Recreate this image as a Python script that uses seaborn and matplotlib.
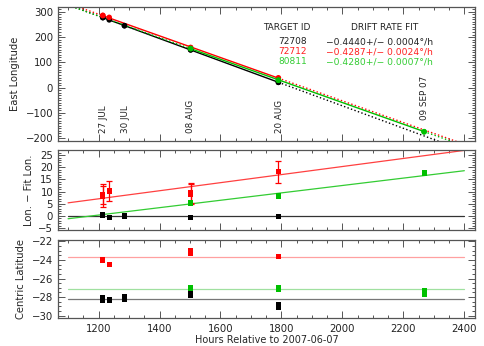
import numpy as np
import pandas as pd
import matplotlib
matplotlib.use("Agg")
import matplotlib.pyplot as plt
import seaborn as sns
from matplotlib.ticker import MultipleLocator

# ---------------- data ----------------
target_ids = ["72708", "72712", "80811"]
drift_rates = [-0.4440, -0.4287, -0.4280]
drift_errs = [0.0004, 0.0024, 0.0007]
fit_lon_at_1500 = [150.0, 162.0, 155.0]
resid_fit_at_1500 = [0.0, 12.0, 4.9]
resid_fit_slope = [0.0, 0.0166, 0.0152]
mean_lat = [-28.2, -23.7, -27.15]

hours_72708 = [1214, 1214, 1235, 1285, 1285, 1502, 1502, 1790, 1790]
lon_72708 = [277, 277, 268, 245, 245, 150, 149, 21, 21]
resid_72708 = [0.5, 0.3, -0.8, 0.2, -0.3, -0.5, -0.7, -0.1, -0.4]
lat_72708 = [-28.1, -28.3, -28.3, -27.9, -28.25, -27.4, -27.8, -28.8, -29.15]

hours_72712 = [1214, 1214, 1235, 1502, 1502, 1790]
lon_72712 = [286, 285, 278, 159, 158, 39]
resid_72712 = [8.9, 7.9, 10.2, 9.4, 9.0, 18.1]
resid_err_72712 = [4.2, 4.2, 4.1, 4.0, 4.0, 4.4]
lat_72712 = [-24.0, -23.95, -24.47, -23.0, -23.3, -23.6]

hours_80811 = [1502, 1502, 1790, 1790, 2268, 2268]
lon_80811 = [154, 155, 29, 30, -174, -175]
resid_80811 = [5.4, 5.2, 8.4, 8.2, 17.8, 17.5]
lat_80811 = [-26.95, -27.1, -26.95, -27.2, -27.3, -27.7]

date_hours = [1216, 1287, 1502, 1792, 2268]
date_labels = ["27 JUL", "30 JUL", "08 AUG", "20 AUG", "09 SEP 07"]
date_label_y = [-180, -180, -180, -180, -128]

# ---------------- style ----------------
sns.set_style("ticks")
plt.rcParams["font.family"] = ["DejaVu Sans"]
plt.rcParams["axes.edgecolor"] = "#555555"
plt.rcParams["xtick.color"] = "#555555"
plt.rcParams["ytick.color"] = "#555555"
plt.rcParams["xtick.labelcolor"] = "#222222"
plt.rcParams["ytick.labelcolor"] = "#222222"

colors = ["#000000", "#ff0000", "#00c000"]
text_colors = ["#222222", "#ff2020", "#33cc33"]
mid_line_colors = ["#333333", "#ff4040", "#33cc33"]
lat_line_colors = ["#777777", "#ffa0a0", "#a0e0a0"]

XLIM = (1067, 2435)

df = pd.concat([
    pd.DataFrame({"hours": hours_72708, "lon": lon_72708, "resid": resid_72708,
                  "lat": lat_72708, "target": "72708"}),
    pd.DataFrame({"hours": hours_72712, "lon": lon_72712, "resid": resid_72712,
                  "lat": lat_72712, "target": "72712"}),
    pd.DataFrame({"hours": hours_80811, "lon": lon_80811, "resid": resid_80811,
                  "lat": lat_80811, "target": "80811"}),
], ignore_index=True)
palette = dict(zip(target_ids, colors))
hours_by_target = [hours_72708, hours_72712, hours_80811]

fig = plt.figure(figsize=(4.85, 3.46), dpi=100)
ax1 = fig.add_axes([0.1196, 0.5925, 0.8598, 0.3873])
ax2 = fig.add_axes([0.1196, 0.3353, 0.8598, 0.2312])
ax3 = fig.add_axes([0.1196, 0.0809, 0.8598, 0.2254])

# ---- top panel: longitudes with drift fits ----
for i, tid in enumerate(target_ids):
    h = hours_by_target[i]
    lo, hi = min(h), max(h)
    segs = [([XLIM[0], lo], ":"), ([lo, hi], "-"), ([hi, XLIM[1]], ":")]
    for xs, ls in segs:
        xs = np.array(xs, dtype=float)
        ys = fit_lon_at_1500[i] + drift_rates[i] * (xs - 1500)
        sns.lineplot(x=xs, y=ys, ax=ax1, color=colors[i], linestyle=ls,
                     linewidth=1.0, sort=False)
sns.scatterplot(data=df, x="hours", y="lon", hue="target", palette=palette,
                ax=ax1, s=16, edgecolor="none", legend=False, zorder=5)
ax1.set_ylim(-211, 319)
ax1.set_ylabel("East Longitude", fontsize=7.2)
ax1.yaxis.set_major_locator(MultipleLocator(100))
ax1.yaxis.set_minor_locator(MultipleLocator(10))

for xh, lab, yy in zip(date_hours, date_labels, date_label_y):
    ax1.text(xh, yy, lab, rotation=90, ha="center", va="bottom",
             fontsize=6.3, color="#222222")

ax1.text(0.549, 0.845, "TARGET ID", transform=ax1.transAxes, fontsize=6.5,
         ha="center", va="center", color="#222222")
ax1.text(0.864, 0.845, "DRIFT RATE FIT", transform=ax1.transAxes, fontsize=6.5,
         ha="right", va="center", color="#222222")
for i, tid in enumerate(target_ids):
    yy = 0.74 - 0.075 * i
    ax1.text(0.597, yy, tid, transform=ax1.transAxes, fontsize=6.5,
             ha="right", va="center", color=text_colors[i])
    ax1.text(0.643, yy,
             "\u2212%.4f+/\u2212 %.4f\u00b0/h" % (abs(drift_rates[i]), drift_errs[i]),
             transform=ax1.transAxes, fontsize=6.6, ha="left", va="center",
             color=text_colors[i])

# ---- middle panel: residuals ----
xs_fit = np.array([1100.0, 2400.0])
for i in range(3):
    ys = resid_fit_at_1500[i] + resid_fit_slope[i] * (xs_fit - 1500)
    sns.lineplot(x=xs_fit, y=ys, ax=ax2, color=mid_line_colors[i],
                 linewidth=0.9, sort=False)
ax2.errorbar(hours_72712, resid_72712, yerr=resid_err_72712, fmt="none",
             ecolor="#ff0000", elinewidth=0.9, capsize=2.2, capthick=0.9,
             zorder=4)
sns.scatterplot(data=df, x="hours", y="resid", hue="target", palette=palette,
                ax=ax2, s=14, marker="s", edgecolor="none", legend=False,
                zorder=5)
ax2.set_ylim(-5.8, 27.1)
ax2.set_ylabel("Lon. \u2212 Fit Lon.", fontsize=7.2, labelpad=3)
ax2.yaxis.set_major_locator(MultipleLocator(5))
ax2.yaxis.set_minor_locator(MultipleLocator(1))

# ---- bottom panel: latitudes ----
for i in range(3):
    sns.lineplot(x=xs_fit, y=[mean_lat[i], mean_lat[i]], ax=ax3,
                 color=lat_line_colors[i], linewidth=0.9)
sns.scatterplot(data=df, x="hours", y="lat", hue="target", palette=palette,
                ax=ax3, s=14, marker="s", edgecolor="none", legend=False,
                zorder=5)
ax3.set_ylim(-30.25, -21.85)
ax3.set_ylabel("Centric Latitude", fontsize=7.2)
ax3.yaxis.set_major_locator(MultipleLocator(2))
ax3.yaxis.set_minor_locator(MultipleLocator(0.5))
ax3.yaxis.set_major_formatter(matplotlib.ticker.FuncFormatter(
    lambda v, p: ("\u2212%d" % abs(v)) if v < 0 else "%d" % v))
ax3.set_xlabel("Hours Relative to 2007-06-07", fontsize=7.0, labelpad=1)

for ax in (ax1, ax2, ax3):
    ax.set_xlim(*XLIM)
    ax.xaxis.set_major_locator(MultipleLocator(200))
    ax.xaxis.set_minor_locator(MultipleLocator(50))
    ax.tick_params(which="both", direction="in", top=True, right=True,
                   labelsize=7.3, width=0.7)
    ax.tick_params(which="major", length=5)
    ax.tick_params(which="minor", length=2.5)
    for s in ax.spines.values():
        s.set_linewidth(0.9)
        s.set_visible(True)
    if ax is not ax3:
        ax.set_xlabel("")
        ax.tick_params(labelbottom=False)
    else:
        ax.tick_params(axis="x", pad=4)

fig.align_ylabels([ax1, ax3])
fig.savefig("out.png", dpi=100)
